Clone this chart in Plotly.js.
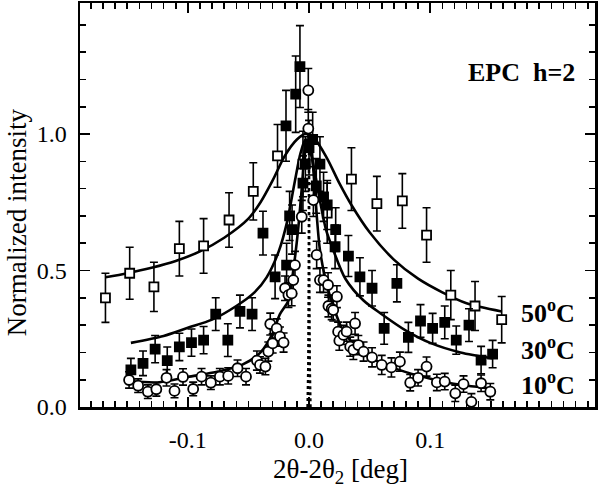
<!DOCTYPE html>
<html>
<head>
<meta charset="utf-8">
<script src="https://cdn.plot.ly/plotly-3.0.1.min.js"></script>
<style>html,body{margin:0;padding:0;background:#fff;}#chart{width:600px;height:493px;}</style>
</head>
<body>
<div id="chart"></div>
<script>
// ---- 50 C (open squares) ----
const x50 = [-0.168, -0.148, -0.128, -0.107, -0.087, -0.066, -0.046, -0.026, -0.005, 0.015, 0.035, 0.056, 0.077, 0.097, 0.117, 0.137, 0.159];
const y50 = [0.40, 0.49, 0.44, 0.58, 0.59, 0.685, 0.79, 0.92, 0.89, 0.71, 0.835, 0.745, 0.755, 0.63, 0.41, 0.37, 0.32];
const e50 = [0.09, 0.095, 0.09, 0.10, 0.10, 0.10, 0.105, 0.115, 0.12, 0.11, 0.115, 0.10, 0.10, 0.10, 0.09, 0.09, 0.085];
const fitX50 = [-0.168, -0.15, -0.13, -0.11, -0.09, -0.07, -0.05, -0.04, -0.03, -0.02, -0.01, -0.003, 0.005, 0.015, 0.025, 0.035, 0.05, 0.07, 0.09, 0.11, 0.13, 0.159];
const fitY50 = [0.475, 0.49, 0.51, 0.535, 0.57, 0.62, 0.69, 0.75, 0.83, 0.92, 0.98, 1.0, 0.98, 0.91, 0.82, 0.74, 0.64, 0.54, 0.47, 0.42, 0.38, 0.35];

// ---- 30 C (filled squares) ----
const x30 = [-0.147, -0.137, -0.127, -0.117, -0.107, -0.097, -0.087, -0.077, -0.067, -0.057, -0.047, -0.038, -0.028, -0.0185, -0.019, -0.016, -0.014, -0.011, -0.0075, -0.005, -0.003, 0.0, 0.003, 0.006, 0.009, 0.012, 0.015, 0.022, 0.0215, 0.0325, 0.042, 0.052, 0.062, 0.0725, 0.082, 0.092, 0.102, 0.112, 0.1215, 0.132, 0.142, 0.1515];
const y30 = [0.136, 0.16, 0.212, 0.17, 0.22, 0.236, 0.245, 0.34, 0.245, 0.35, 0.34, 0.637, 0.477, 0.52, 1.03, 0.70, 0.65, 1.146, 1.247, 0.82, 0.89, 0.95, 0.98, 0.81, 0.89, 0.77, 0.74, 0.65, 0.587, 0.553, 0.477, 0.435, 0.288, 0.453, 0.255, 0.315, 0.288, 0.31, 0.245, 0.30, 0.172, 0.194];
const e30 = [0.042, 0.045, 0.05, 0.05, 0.05, 0.05, 0.05, 0.06, 0.06, 0.06, 0.06, 0.08, 0.08, 0.08, 0.13, 0.09, 0.09, 0.14, 0.15, 0.10, 0.10, 0.10, 0.10, 0.10, 0.10, 0.09, 0.09, 0.08, 0.08, 0.075, 0.07, 0.065, 0.058, 0.068, 0.055, 0.06, 0.055, 0.06, 0.052, 0.06, 0.05, 0.05];
const fitX30 = [-0.147, -0.12, -0.1, -0.08, -0.06, -0.045, -0.035, -0.025, -0.018, -0.012, -0.007, -0.003, 0.002, 0.008, 0.014, 0.02, 0.03, 0.045, 0.06, 0.08, 0.1, 0.125, 0.152];
const fitY30 = [0.235, 0.26, 0.29, 0.32, 0.37, 0.42, 0.475, 0.57, 0.68, 0.82, 0.93, 0.98, 0.92, 0.78, 0.65, 0.575, 0.47, 0.39, 0.34, 0.28, 0.235, 0.2, 0.178];

// ---- 10 C (open circles) ----
const x10 = [-0.1485, -0.141, -0.133, -0.126, -0.1176, -0.111, -0.104, -0.0956, -0.0887, -0.081, -0.0736, -0.0667, -0.059, -0.052, -0.043, -0.0405, -0.036, -0.0336, -0.030, -0.032, -0.0267, -0.024, -0.021, -0.0198, -0.017, -0.0143, -0.013, -0.0116, -0.006, -0.0006, -0.0006, 0.0036, 0.0063, 0.009, 0.012, 0.0157, 0.016, 0.0187, 0.020, 0.023, 0.024, 0.025, 0.0284, 0.031, 0.034, 0.0366, 0.038, 0.0407, 0.045, 0.052, 0.060, 0.068, 0.075, 0.0835, 0.090, 0.097, 0.1055, 0.112, 0.1207, 0.1275, 0.134, 0.142, 0.1496];
const y10 = [0.099, 0.078, 0.056, 0.065, 0.107, 0.059, 0.11, 0.066, 0.111, 0.089, 0.111, 0.114, 0.142, 0.111, 0.17, 0.154, 0.148, 0.203, 0.233, 0.304, 0.288, 0.258, 0.236, 0.435, 0.41, 0.416, 0.465, 0.52, 0.697, 1.16, 1.02, 0.758, 0.557, 0.465, 0.465, 0.447, 0.37, 0.36, 0.355, 0.404, 0.276, 0.243, 0.264, 0.276, 0.221, 0.209, 0.306, 0.227, 0.203, 0.182, 0.154, 0.145, 0.166, 0.089, 0.107, 0.148, 0.09, 0.093, 0.05, 0.084, 0.019, 0.087, 0.056];
const e10 = [0.03, 0.025, 0.025, 0.025, 0.03, 0.025, 0.03, 0.025, 0.03, 0.025, 0.03, 0.03, 0.03, 0.03, 0.035, 0.03, 0.03, 0.035, 0.035, 0.04, 0.035, 0.035, 0.035, 0.045, 0.045, 0.045, 0.05, 0.05, 0.06, 0.08, 0.07, 0.06, 0.05, 0.045, 0.045, 0.045, 0.04, 0.04, 0.04, 0.04, 0.035, 0.035, 0.035, 0.035, 0.035, 0.035, 0.04, 0.035, 0.035, 0.035, 0.035, 0.035, 0.035, 0.03, 0.03, 0.035, 0.03, 0.03, 0.03, 0.03, 0.03, 0.03, 0.03];
const fitX10 = [-0.148, -0.125, -0.1, -0.075, -0.055, -0.04, -0.03, -0.024, -0.017, -0.013, -0.009, -0.006, -0.002, 0.002, 0.005, 0.009, 0.0145, 0.02, 0.028, 0.042, 0.06, 0.09, 0.117, 0.15];
const fitY10 = [0.095, 0.09, 0.11, 0.13, 0.155, 0.2, 0.27, 0.34, 0.39, 0.5, 0.65, 0.8, 0.98, 0.93, 0.78, 0.575, 0.45, 0.37, 0.28, 0.21, 0.16, 0.115, 0.087, 0.068];

// ---- instrument resolution (dotted) ----
const resX = [-0.0012, -0.0006, -0.0002, 0.0, 0.0002, 0.0006, 0.0012];
const resY = [0.0, 0.15, 0.5, 0.95, 0.5, 0.15, 0.0];

// ---- tick labels / texts ----
const xTickVals = [-0.1, 0.0, 0.1];
const xTickText = ["-0.1", "0.0", "0.1"];
const yTickVals = [0.0, 0.5, 1.0];
const yTickText = ["0.0", "0.5", "1.0"];
const tempLabels = ["50<sup>o</sup>C", "30<sup>o</sup>C", "10<sup>o</sup>C"];

const FONT = "Liberation Serif, Times New Roman, serif";

function fit(x, y) {
  return {x: x, y: y, type: 'scatter', mode: 'lines', line: {color: 'black', width: 2.6, shape: 'spline', smoothing: 0.8}, hoverinfo: 'skip'};
}
function pts(x, y, e, symbol, size, fill) {
  return {x: x, y: y, type: 'scatter', mode: 'markers',
    error_y: {type: 'data', array: e, visible: true, color: 'black', thickness: 1.6, width: 4},
    marker: {symbol: symbol, size: size, color: fill, line: {color: 'black', width: 1.8}}};
}

const data = [
  {x: resX, y: resY, type: 'scatter', mode: 'lines', line: {color: 'black', width: 2.5, dash: 'dot'}},
  fit(fitX50, fitY50),
  fit(fitX30, fitY30),
  fit(fitX10, fitY10),
  pts(x50, y50, e50, 'square', 9, 'white'),
  pts(x30, y30, e30, 'square', 9, 'black'),
  pts(x10, y10, e10, 'circle', 10, 'white')
];

const axisCommon = {
  showline: true, linecolor: 'black', linewidth: 2.5, mirror: 'ticks',
  ticks: 'inside', ticklen: 10, tickwidth: 1.8, tickcolor: 'black',
  showgrid: false, zeroline: false,
  tickfont: {family: FONT, size: 24, color: 'black'}
};

const layout = {
  width: 600, height: 493,
  margin: {l: 80, r: 5, t: 3, b: 86},
  paper_bgcolor: 'white', plot_bgcolor: 'white',
  showlegend: false,
  xaxis: Object.assign({}, axisCommon, {
    range: [-0.189, 0.236], tickmode: 'array', tickvals: xTickVals, ticktext: xTickText,
    ticklabelstandoff: 10,
    minor: {dtick: 0.01, tick0: 0, ticks: 'inside', ticklen: 6, tickwidth: 1.6, tickcolor: 'black', showgrid: false}
  }),
  yaxis: Object.assign({}, axisCommon, {
    range: [0, 1.48], tickmode: 'array', tickvals: yTickVals, ticktext: yTickText,
    ticklabelstandoff: 6,
    minor: {dtick: 0.1, tick0: 0, ticks: 'inside', ticklen: 6, tickwidth: 1.6, tickcolor: 'black', showgrid: false}
  }),
  annotations: [
    {xref: 'paper', yref: 'paper', x: 0.505, y: -0.158, xanchor: 'center', yanchor: 'middle', showarrow: false,
     text: '2θ-2θ<sub>2</sub> [deg]', font: {family: FONT, size: 27, color: 'black'}},
    {xref: 'paper', yref: 'paper', x: -0.122, y: 0.458, xanchor: 'center', yanchor: 'middle', showarrow: false, textangle: -90,
     text: 'Normalized intensity', font: {family: FONT, size: 27, color: 'black'}},
    {xref: 'paper', yref: 'paper', x: 0.965, y: 0.827, xanchor: 'right', yanchor: 'middle', showarrow: false,
     text: '<b>EPC  h=2</b>', font: {family: FONT, size: 26, color: 'black'}},
    {xref: 'paper', yref: 'paper', x: 0.965, y: 0.2376, xanchor: 'right', yanchor: 'middle', showarrow: false,
     text: '<b>' + tempLabels[0] + '</b>', font: {family: FONT, size: 26, color: 'black'}},
    {xref: 'paper', yref: 'paper', x: 0.965, y: 0.146, xanchor: 'right', yanchor: 'middle', showarrow: false,
     text: '<b>' + tempLabels[1] + '</b>', font: {family: FONT, size: 26, color: 'black'}},
    {xref: 'paper', yref: 'paper', x: 0.965, y: 0.057, xanchor: 'right', yanchor: 'middle', showarrow: false,
     text: '<b>' + tempLabels[2] + '</b>', font: {family: FONT, size: 26, color: 'black'}}
  ]
};

Plotly.newPlot('chart', data, layout, {staticPlot: true, displayModeBar: false});
</script>
</body>
</html>
